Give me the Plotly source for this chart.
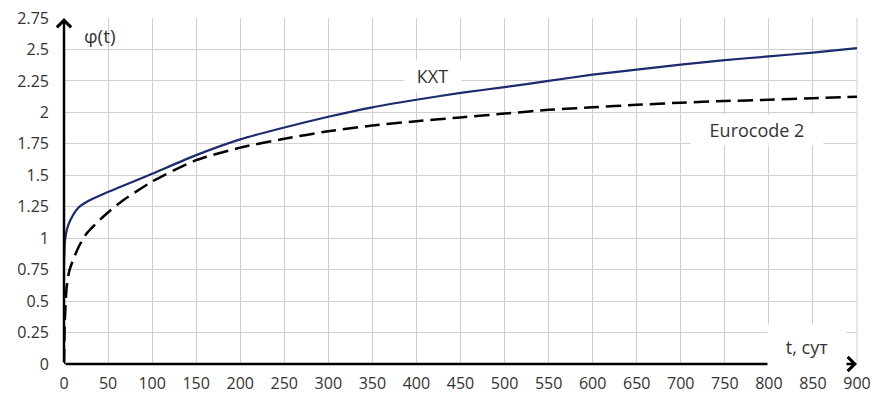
import plotly.graph_objects as go

# ---- data ----
t_kxt = [0, 1, 3, 7, 16, 26, 46, 65, 100, 150, 200, 250, 300, 350, 400, 450,
         500, 550, 600, 650, 700, 750, 800, 850, 900]
phi_kxt = [0.80, 0.97, 1.06, 1.14, 1.24, 1.29, 1.355, 1.41, 1.512, 1.66, 1.785, 1.88,
           1.965, 2.04, 2.10, 2.155, 2.20, 2.25, 2.30, 2.34, 2.38, 2.415, 2.445, 2.475, 2.51]

t_ec = [0, 1, 3, 6, 11, 18, 26, 46, 65, 100, 150, 200, 250, 300, 350, 400, 450,
        500, 550, 600, 650, 700, 750, 800, 850, 900]
phi_ec = [0.0, 0.35, 0.61, 0.74, 0.84, 0.95, 1.04, 1.18, 1.29, 1.45, 1.62, 1.72, 1.79,
          1.85, 1.895, 1.93, 1.96, 1.99, 2.02, 2.04, 2.06, 2.077, 2.09, 2.10, 2.112, 2.125]

x_ticks = list(range(0, 901, 50))
y_ticks = [0, 0.25, 0.5, 0.75, 1, 1.25, 1.5, 1.75, 2, 2.25, 2.5, 2.75]
y_tick_text = ["0", "0.25", "0.5", "0.75", "1", "1.25", "1.5", "1.75", "2", "2.25", "2.5", "2.75"]

FONT = "Open Sans"
TXT = "#333333"

fig = go.Figure()
fig.add_trace(go.Scatter(x=t_ec, y=phi_ec, mode="lines", name="Eurocode 2",
                         line=dict(color="black", width=2.5, dash="15px,7px",
                                   shape="spline", smoothing=0.6),
                         hoverinfo="skip"))
fig.add_trace(go.Scatter(x=t_kxt, y=phi_kxt, mode="lines", name="КХТ",
                         line=dict(color="#1c2a6e", width=2.2, shape="spline", smoothing=0.6),
                         hoverinfo="skip"))

# axis arrows
fig.add_annotation(x=0, y=2.75, ax=0, ay=0, xref="x", yref="y", axref="x", ayref="y",
                   text="", showarrow=True, arrowhead=4, arrowsize=1.1, arrowwidth=2.5,
                   arrowcolor="black")
fig.add_annotation(x=900, y=0, ax=0, ay=0, xref="x", yref="y", axref="x", ayref="y",
                   text="", showarrow=True, arrowhead=4, arrowsize=1.1, arrowwidth=2.5,
                   arrowcolor="black")

# text labels
lab = dict(showarrow=False, bgcolor="white", borderpad=0,
           font=dict(family=FONT, size=18, color=TXT))
fig.add_annotation(x=418, y=2.29, text="КХТ", width=57, height=30, **lab)
fig.add_annotation(x=786, y=1.86, text="Eurocode 2", width=132, height=30, **lab)
fig.add_annotation(x=843, y=0.135, text="t, сут", width=78, height=44, **lab)
fig.add_annotation(x=41, y=2.61, text="φ(t)", showarrow=False,
                   font=dict(family=FONT, size=19, color=TXT))

fig.update_xaxes(range=[0, 900], tickvals=x_ticks, showgrid=True, gridcolor="#cfcfcf",
                 gridwidth=1, zeroline=False, showline=False, ticks="",
                 ticklabelstandoff=8, fixedrange=True, automargin=False,
                 tickfont=dict(family=FONT, size=16, color=TXT))
fig.update_yaxes(range=[0, 2.75], tickvals=y_ticks, ticktext=y_tick_text, showgrid=True,
                 gridcolor="#cfcfcf", gridwidth=1, zeroline=False, showline=False,
                 ticks="", ticklabelstandoff=14, fixedrange=True, automargin=False,
                 tickfont=dict(family=FONT, size=16, color=TXT))

fig.update_layout(width=872, height=399, margin=dict(l=64, r=15, t=18, b=35, autoexpand=False),
                  plot_bgcolor="white", paper_bgcolor="white", showlegend=False,
                  shapes=[dict(type="line", xref="paper", yref="paper", x0=1, x1=1, y0=0, y1=1,
                               line=dict(color="#cfcfcf", width=1), layer="below")])

fig.write_html("out.html", config={"displayModeBar": False},
               post_script="document.body.style.margin='0';document.body.style.padding='0';")
